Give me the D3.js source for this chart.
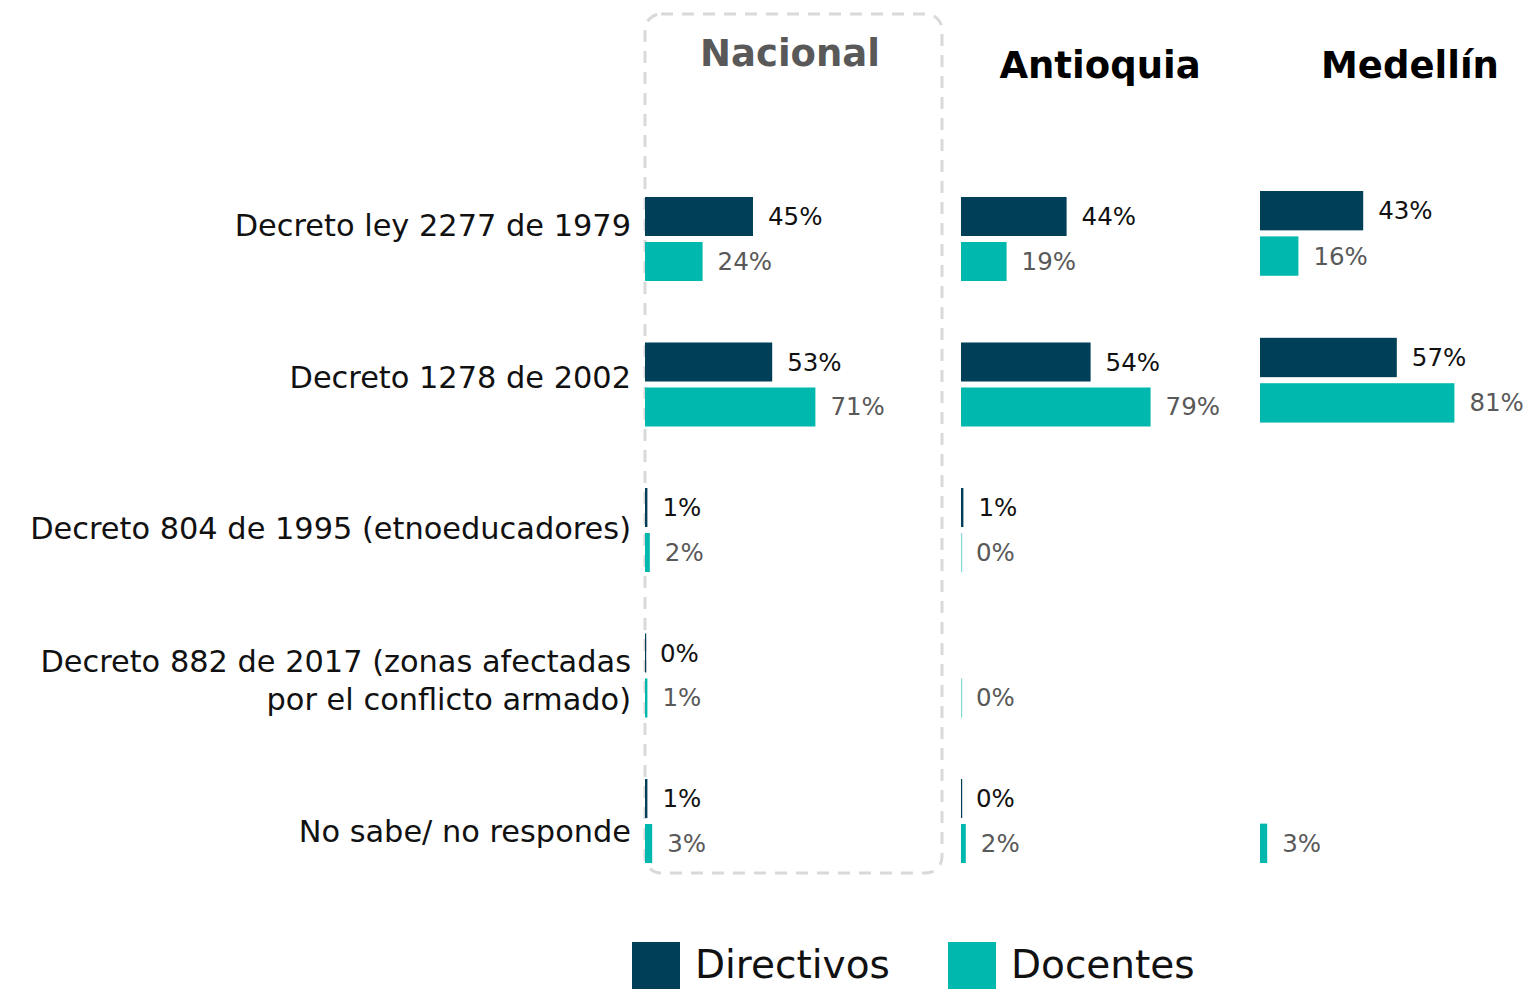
<!DOCTYPE html>
<html>
<head>
<meta charset="utf-8">
<script src="https://cdn.jsdelivr.net/npm/d3@7"></script>
<style>
  html, body { margin: 0; padding: 0; background: #fff; }
  svg { display: block; font-family: "DejaVu Sans", sans-serif; }
</style>
</head>
<body>
<svg id="chart" width="1529" height="989"></svg>
<script>
// ---- data ----
const categories = [
  "Decreto ley 2277 de 1979",
  "Decreto 1278 de 2002",
  "Decreto 804 de 1995 (etnoeducadores)",
  "Decreto 882 de 2017 (zonas afectadas\npor el conflicto armado)",
  "No sabe/ no responde"
];
const series = ["Directivos", "Docentes"];
const panels = ["Nacional", "Antioquia", "Medellín"];
// values per panel, null = not shown
const directivos = {
  "Nacional":  [45, 53, 1, 0, 1],
  "Antioquia": [44, 54, 1, null, 0],
  "Medellín":  [43, 57, null, null, null]
};
const docentes = {
  "Nacional":  [24, 71, 2, 1, 3],
  "Antioquia": [19, 79, 0, 0, 2],
  "Medellín":  [16, 81, null, null, 3]
};

// ---- styling / layout ----
const colors = { "Directivos": "#003f58", "Docentes": "#00b8ae" };
const labelColors = { "Directivos": "#111111", "Docentes": "#595959" };
const panelLayout = {
  "Nacional":  { x0: 645,  y: [197, 863], titleX: 790,  titleY: 66, titleColor: "#595959" },
  "Antioquia": { x0: 961,  y: [197, 863], titleX: 1100, titleY: 78, titleColor: "#000000" },
  "Medellín":  { x0: 1260, y: [191, 863], titleX: 1410, titleY: 78, titleColor: "#000000" }
};

const svg = d3.select("#chart");

// dashed highlight box around Nacional
svg.append("rect")
  .attr("x", 645).attr("y", 14)
  .attr("width", 297).attr("height", 859)
  .attr("rx", 16).attr("ry", 16)
  .attr("fill", "none")
  .attr("stroke", "#d9d9d9")
  .attr("stroke-width", 3)
  .attr("stroke-dasharray", "12,9");

// category labels (own axis)
const yLabel = d3.scalePoint().domain(categories).range([225, 831]);
const catG = svg.append("g").attr("font-size", 30.4).attr("fill", "#111");
categories.forEach(c => {
  const lines = c.split("\n");
  const lh = 38;
  const t = catG.append("text")
    .attr("x", 631)
    .attr("text-anchor", "end")
    .attr("y", yLabel(c) - (lines.length - 1) * lh / 2)
    .attr("dominant-baseline", "central");
  lines.forEach((ln, i) => {
    t.append("tspan").attr("x", 631).attr("dy", i === 0 ? 0 : lh).text(ln);
  });
});

// panels
panels.forEach(p => {
  const L = panelLayout[p];
  const x = d3.scaleLinear().domain([0, 100]).range([0, 240]);
  const y = d3.scaleBand().domain(categories).range(L.y).paddingInner(0.4227).paddingOuter(0);
  const ys = d3.scaleBand().domain(series).range([0, y.bandwidth()]).paddingInner(6 / 45).paddingOuter(0);

  const g = svg.append("g").attr("transform", `translate(${L.x0},0)`);

  g.append("text")
    .attr("x", L.titleX - L.x0)
    .attr("y", L.titleY)
    .attr("text-anchor", "middle")
    .attr("font-weight", "bold")
    .attr("font-size", 37)
    .attr("fill", L.titleColor)
    .text(p);

  const rows = [];
  categories.forEach((c, i) => {
    rows.push({ cat: c, s: "Directivos", v: directivos[p][i] });
    rows.push({ cat: c, s: "Docentes", v: docentes[p][i] });
  });
  const data = rows.filter(d => d.v !== null);

  g.selectAll("rect.bar").data(data).join("rect")
    .attr("class", "bar")
    .attr("x", x(0))
    .attr("y", d => y(d.cat) + ys(d.s))
    .attr("width", d => Math.max(x(d.v), d.v === 0 ? 1.2 : 0))
    .attr("height", ys.bandwidth())
    .attr("fill", d => colors[d.s])
    .attr("fill-opacity", d => d.v === 0 && d.s === "Docentes" ? 0.5 : 1);

  g.selectAll("text.val").data(data).join("text")
    .attr("class", "val")
    .attr("x", d => x(d.v) + 15)
    .attr("y", d => y(d.cat) + ys(d.s) + ys.bandwidth() / 2)
    .attr("dominant-baseline", "central")
    .attr("font-size", 24.5)
    .attr("fill", d => labelColors[d.s])
    .text(d => d.v + "%");
});

// legend
const legendX = { "Directivos": 632, "Docentes": 948 };
const lg = svg.append("g");
series.forEach(s => {
  lg.append("rect")
    .attr("x", legendX[s]).attr("y", 942)
    .attr("width", 48).attr("height", 48)
    .attr("fill", colors[s]);
  lg.append("text")
    .attr("x", legendX[s] + 63).attr("y", 978)
    .attr("font-size", 39)
    .attr("fill", "#111")
    .text(s);
});
</script>
</body>
</html>
